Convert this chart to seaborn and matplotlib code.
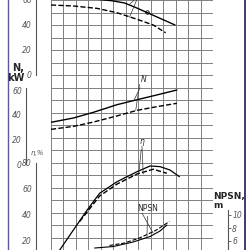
import matplotlib
matplotlib.use('Agg')
import matplotlib.pyplot as plt
from matplotlib.lines import Line2D
import numpy as np
import seaborn as sns

# flow, in grid cells from the left edge of the grid
q_head = [2.7, 3.9, 4.9, 5.9, 6.7, 7.7, 9.95]
head_a = [61.5, 60.4, 59.4, 57.6, 54.4, 50.0, 40.0]
q_head_b = [0.0, 1.8, 3.7, 5.3, 6.9, 8.2, 9.2]
head_b = [56.0, 55.2, 53.3, 49.8, 44.6, 40.0, 33.8]
head_mark = (7.7, 50.0)

q_power = [0.0, 1.8, 3.4, 5.3, 6.9, 8.5, 10.1]
power_a = [33.8, 37.3, 41.9, 48.1, 52.1, 56.0, 60.0]
power_b = [28.1, 30.5, 34.0, 39.0, 43.5, 46.5, 49.2]

q_eff_a = [0.4, 0.7, 1.8, 2.9, 3.9, 5.3, 6.9, 7.95, 8.75, 9.55, 10.3]
eff_a = [7.0, 13.1, 28.5, 43.8, 56.7, 65.6, 73.3, 77.7, 77.2, 74.6, 69.5]
q_eff_b = [2.3, 2.9, 3.9, 5.3, 6.9, 8.2, 9.3]
eff_b = [35.0, 42.3, 54.6, 63.8, 71.5, 75.2, 72.1]

q_npsh_a = [3.5, 5.0, 6.6, 7.95, 8.75, 9.3]
npsh_a = [4.92, 5.15, 5.85, 6.69, 7.54, 8.46]
q_npsh_b = [4.7, 5.9, 7.1, 8.4, 9.5]
npsh_b = [5.31, 5.69, 6.46, 7.62, 9.0]

W = H = 250
sns.set_style('white')
fig = plt.figure(figsize=(2.5, 2.5), dpi=100)
rect = [51 / W, 0, 162 / W, 1]

# background grid
grid = fig.add_axes(rect)
grid.set_xlim(0, 13)
grid.set_ylim(0, 20)
grid.set_xticks(range(14))
grid.set_yticks(range(21))
grid.grid(True, color='#808080', lw=0.7)
grid.tick_params(length=0, labelleft=False, labelbottom=False)
for s in grid.spines.values():
    s.set_visible(False)

grey = '#555555'


def scale_axis(v0, r0, v1, r1, side, xpix, bounds, ticks):
    ax = fig.add_axes(rect, facecolor='none')
    k = (v1 - v0) / (r1 - r0)
    ax.set_xlim(0, 13)
    ax.set_ylim(v0 + (H - r0) * k, v0 - r0 * k)
    for n, s in ax.spines.items():
        s.set_visible(n == side)
    sp = ax.spines[side]
    sp.set_position(('axes', (xpix - 51) / 162))
    sp.set_bounds(*bounds)
    sp.set_color(grey)
    sp.set_linewidth(0.8)
    ax.set_xticks([])
    ax.set_yticks(ticks)
    if side == 'right':
        ax.yaxis.tick_right()
    ax.tick_params(axis='y', labelsize=5.5, colors=grey, length=2,
                   width=0.6, pad=1)
    for lab in ax.get_yticklabels():
        lab.set_fontstyle('italic')
    return ax


ax_h = scale_axis(60, 0, 0, 75, 'left', 36, (0, 66), [0, 20, 40, 60])
ax_n = scale_axis(60, 90, 0, 164, 'left', 26, (0, 61.5), [0, 20, 40, 60])
ax_e = scale_axis(80, 163, 20, 241, 'left', 36, (5, 80), [20, 40, 60, 80])
ax_p = scale_axis(10, 215, 6, 241, 'right', 228, (4, 10.8), [6, 8, 10])

kw = dict(color='black', lw=1.0)
dash = dict(color='black', lw=1.0, dashes=(4, 2.5))
sns.lineplot(x=q_head, y=head_a, ax=ax_h, **kw)
sns.lineplot(x=q_head_b, y=head_b, ax=ax_h, linestyle='--', **dash)
ax_h.plot(*head_mark, 'o', ms=2.5, mfc='none', mec='black', mew=0.6)
sns.lineplot(x=q_power, y=power_a, ax=ax_n, **kw)
sns.lineplot(x=q_power, y=power_b, ax=ax_n, linestyle='--', **dash)
sns.lineplot(x=q_eff_a, y=eff_a, ax=ax_e, color='black', lw=0.9)
sns.lineplot(x=q_eff_b, y=eff_b, ax=ax_e, linestyle='--', **dash)
sns.lineplot(x=q_npsh_a, y=npsh_a, ax=ax_p, color='black', lw=0.8)
sns.lineplot(x=q_npsh_b, y=npsh_b, ax=ax_p, linestyle='--',
             color='black', lw=0.8, dashes=(3, 2))
for a in (ax_h, ax_n, ax_e, ax_p):
    a.set_xlim(0, 13)

lead = dict(arrowstyle='-', lw=0.5, color='#333333', shrinkA=0, shrinkB=0)
# leader lines
ax_h.annotate('', xy=(6.3, 56.5), xytext=(7.0, 63), arrowprops=lead,
              annotation_clip=False)
ax_h.annotate('', xy=(6.3, 46.2), xytext=(7.0, 63), arrowprops=lead,
              annotation_clip=False)
ax_n.annotate('N', xy=(6.65, 51.5), xytext=(7.45, 64.5), arrowprops=lead,
              fontsize=5.5, fontstyle='italic', ha='center', va='bottom')
ax_n.annotate('', xy=(6.8, 43.5), xytext=(7.1, 64.5), arrowprops=lead)
ax_e.annotate('η', xy=(7.05, 72), xytext=(7.3, 93), arrowprops=lead,
              fontsize=5.5, fontstyle='italic', ha='center', va='bottom')
ax_e.annotate('', xy=(7.4, 71.5), xytext=(7.3, 93), arrowprops=lead)
ax_p.annotate('NPSN', xy=(7.7, 6.5), xytext=(7.75, 10.3), arrowprops=lead,
              fontsize=5.5, ha='center', va='bottom')
ax_p.annotate('', xy=(8.2, 7.2), xytext=(7.3, 10.3), arrowprops=lead)

# axis titles
fig.text(24 / W, 1 - 73 / H, 'N,\nkW', fontsize=7, fontweight='bold',
         ha='right', va='center', linespacing=1.0)
fig.text(37 / W, 1 - 153 / H, 'η,%', fontsize=5, fontstyle='italic',
         color=grey, ha='center', va='center')
fig.text(213 / W, 1 - 201 / H, 'NPSN,\nm', fontsize=6.5, fontweight='bold',
         ha='left', va='center', linespacing=1.1)

# scan frame
fig.add_artist(Line2D([8 / W, 8 / W], [0, 1], transform=fig.transFigure,
                      color='#5a5a9a', lw=1.0))
fig.add_artist(Line2D([245 / W, 245 / W], [0, 1], transform=fig.transFigure,
                      color='#1a1a5a', lw=1.2))

fig.savefig('out.png', dpi=100)
